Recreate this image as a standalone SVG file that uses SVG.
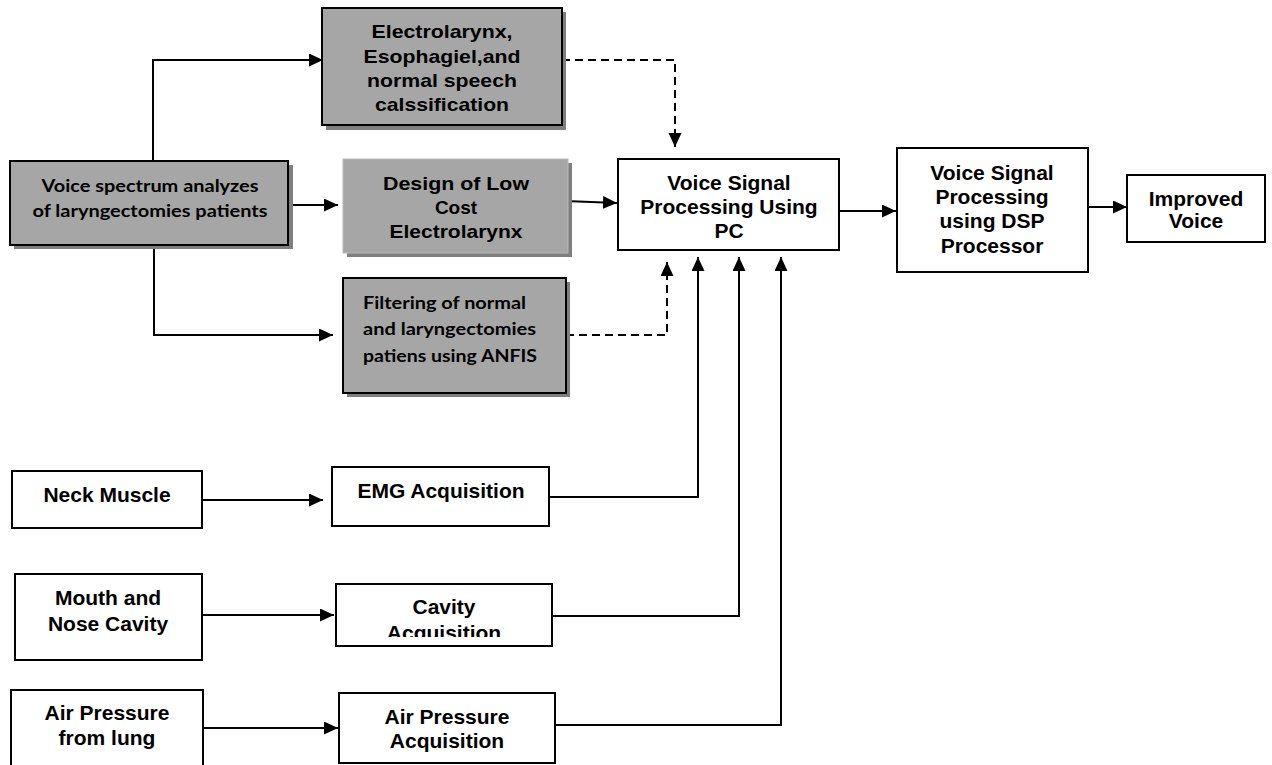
<svg xmlns="http://www.w3.org/2000/svg" width="1272" height="765" viewBox="0 0 1272 765">
<style>
.box{fill:#fff;stroke:#000;stroke-width:2}
.gbox{fill:#a6a6a6;stroke:#000;stroke-width:2}
.lbox{fill:#a6a6a6;stroke:#b8b8b8;stroke-width:1}
.shadow{fill:#7f7f7f}
.t{font-family:"Liberation Sans",Arial,sans-serif;font-weight:bold;font-size:21px;fill:#000;text-anchor:middle}
.tg{font-family:"Liberation Sans",Arial,sans-serif;font-weight:bold;font-size:19px;fill:#000;text-anchor:middle}
.tc{font-family:Lato,"Open Sans",sans-serif;font-weight:bold;font-size:16.5px;fill:#000}
.ln{fill:none;stroke:#000;stroke-width:2}
.dash{fill:none;stroke:#000;stroke-width:2;stroke-dasharray:8 5}
</style>
<defs>
<marker id="ah" markerUnits="userSpaceOnUse" markerWidth="15" markerHeight="14" refX="14" refY="6.5" orient="auto">
<path d="M0,0 L14,6.5 L0,13 z" fill="#000"/>
</marker>
<clipPath id="cavclip"><rect x="336" y="584" width="216" height="53"/></clipPath>
</defs>

<g id="connectors">
<polyline class="ln" points="153,161 153,60 323,60" marker-end="url(#ah)"/>
<line class="ln" x1="288" y1="205" x2="338" y2="205" marker-end="url(#ah)"/>
<polyline class="ln" points="154,245 154,335 333,335" marker-end="url(#ah)"/>
<line class="ln" x1="565" y1="201" x2="617" y2="203" marker-end="url(#ah)"/>
<polyline class="dash" points="562,60 675,60 675,147" marker-end="url(#ah)"/>
<polyline class="dash" points="566,335 667,335 667,262" marker-end="url(#ah)"/>
<line class="ln" x1="839" y1="211" x2="896" y2="211" marker-end="url(#ah)"/>
<line class="ln" x1="1088" y1="207" x2="1127" y2="207" marker-end="url(#ah)"/>
<line class="ln" x1="202" y1="500" x2="323" y2="500" marker-end="url(#ah)"/>
<line class="ln" x1="202" y1="615" x2="334" y2="615" marker-end="url(#ah)"/>
<line class="ln" x1="203" y1="728" x2="338" y2="728" marker-end="url(#ah)"/>
<polyline class="ln" points="549,497 698,497 698,257" marker-end="url(#ah)"/>
<polyline class="ln" points="552,616 739,616 739,257" marker-end="url(#ah)"/>
<polyline class="ln" points="555,725 781,725 781,257" marker-end="url(#ah)"/>
</g>

<g id="electrolarynx-classification">
<rect class="shadow" x="326" y="12" width="240" height="118"/>
<rect class="gbox" x="322" y="8" width="240" height="117"/>
<text class="tg" x="442" y="38" textLength="141" lengthAdjust="spacingAndGlyphs">Electrolarynx,</text>
<text class="tg" x="442" y="63" textLength="157" lengthAdjust="spacingAndGlyphs">Esophagiel,and</text>
<text class="tg" x="442" y="87" textLength="150" lengthAdjust="spacingAndGlyphs">normal speech</text>
<text class="tg" x="442" y="111" textLength="134" lengthAdjust="spacingAndGlyphs">calssification</text>
</g>

<g id="voice-spectrum">
<rect class="shadow" x="14" y="165" width="279" height="84"/>
<rect class="gbox" x="10" y="161" width="278" height="84"/>
<text class="tc" x="150" y="192" text-anchor="middle" textLength="217" lengthAdjust="spacingAndGlyphs">Voice spectrum analyzes</text>
<text class="tc" x="150" y="217" text-anchor="middle" textLength="235" lengthAdjust="spacingAndGlyphs">of laryngectomies patients</text>
</g>

<g id="design-electrolarynx">
<rect class="shadow" x="347" y="163" width="225" height="94"/>
<rect class="lbox" x="343" y="159" width="225" height="94"/>
<text class="tg" x="456" y="190" textLength="146" lengthAdjust="spacingAndGlyphs">Design of Low</text>
<text class="tg" x="456" y="214">Cost</text>
<text class="tg" x="456" y="238" textLength="133" lengthAdjust="spacingAndGlyphs">Electrolarynx</text>
</g>

<g id="filtering-anfis">
<rect class="shadow" x="347" y="282" width="223" height="115"/>
<rect class="gbox" x="343" y="278" width="223" height="115"/>
<text class="tc" x="363" y="309" textLength="163" lengthAdjust="spacingAndGlyphs">Filtering of normal</text>
<text class="tc" x="363" y="335" textLength="173" lengthAdjust="spacingAndGlyphs">and laryngectomies</text>
<text class="tc" x="363" y="362" textLength="174" lengthAdjust="spacingAndGlyphs">patiens using ANFIS</text>
</g>

<g id="pc-processing">
<rect class="box" x="618" y="159" width="221" height="91"/>
<text class="t" x="729" y="190">Voice Signal</text>
<text class="t" x="729" y="214">Processing Using</text>
<text class="t" x="729" y="238">PC</text>
</g>

<g id="dsp-processing">
<rect class="box" x="897" y="148" width="191" height="124"/>
<text class="t" x="992" y="180">Voice Signal</text>
<text class="t" x="992" y="204">Processing</text>
<text class="t" x="992" y="228">using DSP</text>
<text class="t" x="992" y="253">Processor</text>
</g>

<g id="improved-voice">
<rect class="box" x="1127" y="175" width="138" height="67"/>
<text class="t" x="1196" y="206">Improved</text>
<text class="t" x="1196" y="228">Voice</text>
</g>

<g id="neck-muscle">
<rect class="box" x="12" y="471" width="190" height="57"/>
<text class="t" x="107" y="502">Neck Muscle</text>
</g>

<g id="emg-acquisition">
<rect class="box" x="332" y="467" width="217" height="59"/>
<text class="t" x="441" y="498">EMG Acquisition</text>
</g>

<g id="mouth-nose">
<rect class="box" x="15" y="574" width="187" height="86"/>
<text class="t" x="108" y="605">Mouth and</text>
<text class="t" x="108" y="631">Nose Cavity</text>
</g>

<g id="cavity-acquisition">
<rect class="box" x="336" y="584" width="216" height="62"/>
<text class="t" x="444" y="614">Cavity</text>
<text class="t" x="444" y="640" clip-path="url(#cavclip)">Acquisition</text>
</g>

<g id="air-pressure-lung">
<rect class="box" x="11" y="690" width="192" height="90"/>
<text class="t" x="107" y="720">Air Pressure</text>
<text class="t" x="107" y="745">from lung</text>
</g>

<g id="air-pressure-acquisition">
<rect class="box" x="339" y="693" width="216" height="70"/>
<text class="t" x="447" y="724">Air Pressure</text>
<text class="t" x="447" y="748">Acquisition</text>
</g>
</svg>
